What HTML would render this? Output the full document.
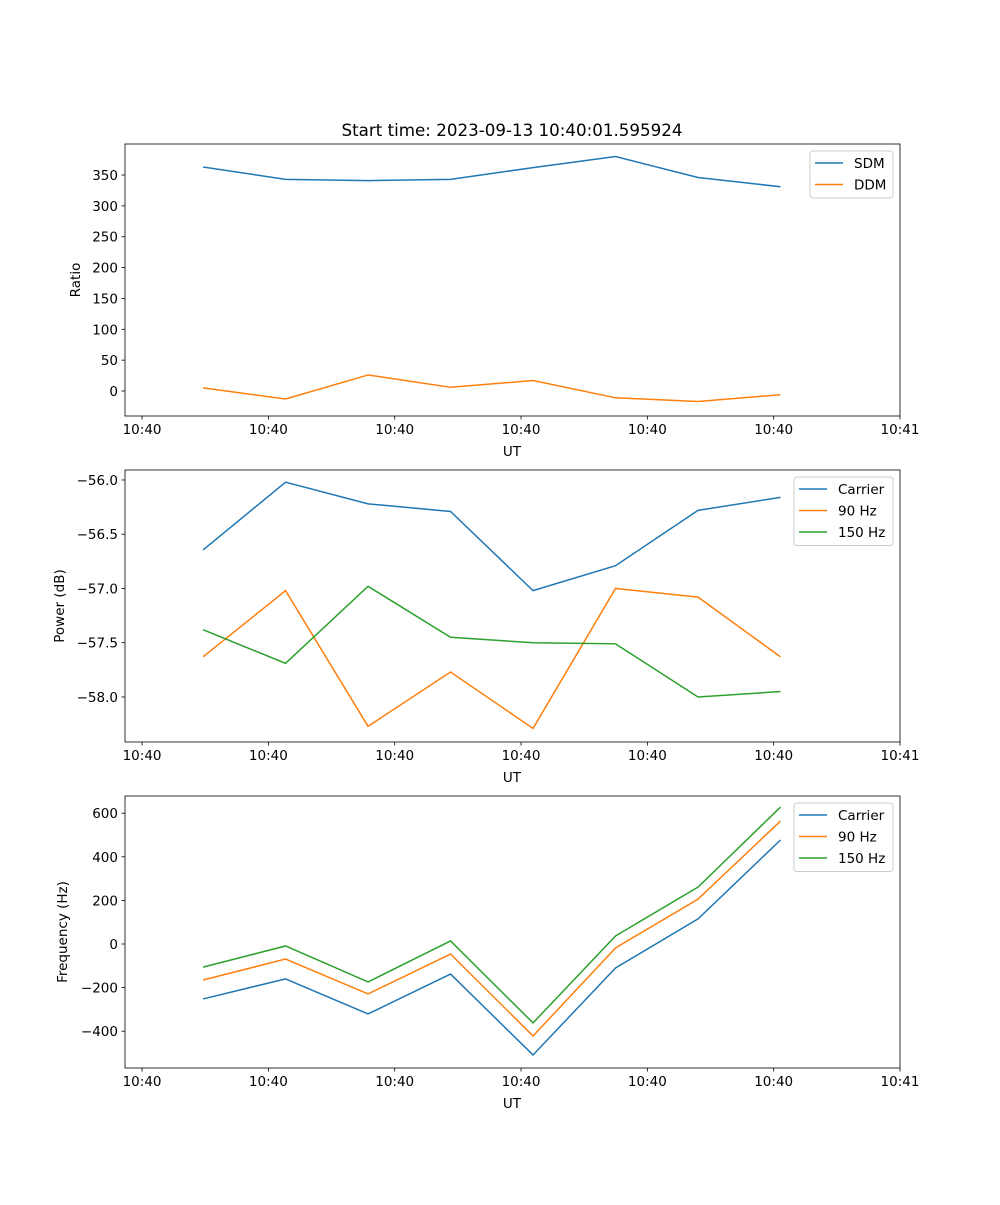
<!DOCTYPE html>
<html><head><meta charset="utf-8"><style>
body{margin:0;background:#fff;}
svg text{font-family:"DejaVu Sans","Liberation Sans",sans-serif;font-size:13.5px;fill:#000;}
</style></head><body>
<svg id="fig" width="1000" height="1200" xmlns="http://www.w3.org/2000/svg">
<text x="512" y="136" text-anchor="middle" style="font-size:16.7px">Start time: 2023-09-13 10:40:01.595924</text>
</svg>
<script>
const timeSeconds=[4.83,11.36,17.89,24.42,30.95,37.48,44.01,50.54];
const xTickValues=[0,10,20,30,40,50,60];
const xTickLabels=["10:40","10:40","10:40","10:40","10:40","10:40","10:41"];
const sdm=[363,343,341,343,362,380,346,331];
const ddm=[5,-13,26,6,17,-11,-17,-6];
const ratioTicks=[0,50,100,150,200,250,300,350];
const powerCarrier=[-56.645,-56.02,-56.22,-56.29,-57.02,-56.79,-56.28,-56.16];
const power90=[-57.63,-57.02,-58.27,-57.77,-58.29,-57.0,-57.08,-57.63];
const power150=[-57.38,-57.69,-56.98,-57.45,-57.50,-57.51,-58.0,-57.95];
const powerTicks=[-56.0,-56.5,-57.0,-57.5,-58.0];
const freqCarrier=[-252,-160,-321,-138,-509,-110,115,477];
const freq90=[-165,-69,-229,-46,-422,-18,206,564];
const freq150=[-106,-9,-174,14,-362,37,261,628];
const freqTicks=[-400,-200,0,200,400,600];

const NS="http://www.w3.org/2000/svg";
const svg=document.getElementById('fig');
function mk(tag,attrs,parent){const e=document.createElementNS(NS,tag);for(const k in attrs)e.setAttribute(k,attrs[k]);(parent||svg).appendChild(e);return e;}
const L=125,R=900,xmin=-1.35,xmax=60.0;
const xs=v=>L+(v-xmin)/(xmax-xmin)*(R-L);
const C={blue:'#1f77b4',orange:'#ff7f0e',green:'#2ca02c'};

function panel(name,top,bottom,ymin,ymax,ticks,fmt,ylabel,series,legend){
  const ys=v=>bottom-(v-ymin)/(ymax-ymin)*(bottom-top);
  const g=mk('g',{});
  
  
  series.forEach(s=>{
    const p=mk('polyline',{points:timeSeries(s.data,ys),fill:'none',stroke:s.color,'stroke-width':1.5},g);
    
    
  });
  const box=mk('rect',{x:L,y:top,width:R-L,height:bottom-top,fill:'none',stroke:'#000','stroke-width':0.8},g);
  
  
  xTickValues.forEach((v,i)=>{
    const x=xs(v);
    mk('line',{x1:x,x2:x,y1:bottom,y2:bottom+3.5,stroke:'#000','stroke-width':0.8},g);
    const t=mk('text',{x:x,y:bottom+18,'text-anchor':'middle'},g);t.textContent=xTickLabels[i];
    
    
  });
  ticks.forEach(v=>{
    const y=ys(v);
    mk('line',{x1:L-3.5,x2:L,y1:y,y2:y,stroke:'#000','stroke-width':0.8},g);
    const t=mk('text',{x:L-7,y:y+5,'text-anchor':'end'},g);t.textContent=fmt(v);
    
    
  });
  const xl=mk('text',{x:512,y:bottom+40,'text-anchor':'middle'},g);xl.textContent='UT';
  
  
  const yc=(top+bottom)/2;
  const yl=mk('text',{x:0,y:0,'text-anchor':'middle',transform:`translate(${legend.ylx},${yc}) rotate(-90)`},g);yl.textContent=ylabel;
  
  
  const lg=mk('g',{},g);
  
  
  mk('rect',{x:legend.x,y:top+7,width:893-legend.x,height:series.length*21.5+4,fill:'#fff',stroke:'#ccc',rx:3},lg);
  series.forEach((s,i)=>{
    const y=top+19+i*21.5;
    mk('line',{x1:legend.x+5,x2:legend.x+33,y1:y,y2:y,stroke:s.color,'stroke-width':1.5},lg);
    const t=mk('text',{x:legend.x+44,y:y+5},lg);t.textContent=s.label;
    
    
  });
}
function timeSeries(d,ys){return d.map((v,i)=>xs(timeSeconds[i])+','+ys(v)).join(' ');}
const minus=v=>String(v).replace('-','\u2212');
panel('ratio',144,416,-40.5,400.3,ratioTicks,v=>minus(v),'Ratio',
 [{key:'sdm',label:'SDM',data:sdm,color:C.blue},{key:'ddm',label:'DDM',data:ddm,color:C.orange}],{x:810,ylx:80});
panel('power',470,742,-58.415,-55.908,powerTicks,v=>minus(v.toFixed(1)),'Power (dB)',
 [{key:'carrier',label:'Carrier',data:powerCarrier,color:C.blue},{key:'90hz',label:'90 Hz',data:power90,color:C.orange},{key:'150hz',label:'150 Hz',data:power150,color:C.green}],{x:794,ylx:64});
panel('frequency',796,1068,-568.8,678.9,freqTicks,v=>minus(v),'Frequency (Hz)',
 [{key:'carrier',label:'Carrier',data:freqCarrier,color:C.blue},{key:'90hz',label:'90 Hz',data:freq90,color:C.orange},{key:'150hz',label:'150 Hz',data:freq150,color:C.green}],{x:794,ylx:67});
</script>
</body></html>
